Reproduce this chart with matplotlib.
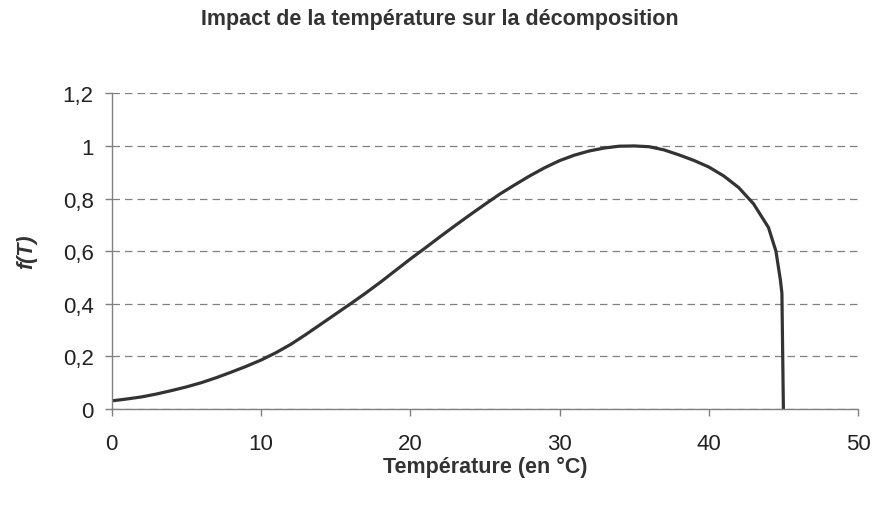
import matplotlib
matplotlib.use('Agg')
import matplotlib.pyplot as plt
from matplotlib.ticker import FuncFormatter

# f(T)
temperature = [0, 1, 2, 3, 4, 5, 6, 7, 8, 9,
               10, 11, 12, 13, 14, 15, 16, 17, 18, 19,
               20, 21, 22, 23, 24, 25, 26, 27, 28, 29,
               30, 31, 32, 33, 34, 35, 36, 37, 38, 39,
               40, 41, 42, 43, 44, 44.5, 44.8, 44.9, 45]
f_t = [0.031, 0.038, 0.046, 0.057, 0.070, 0.084, 0.100, 0.119, 0.140, 0.162,
       0.186, 0.214, 0.246, 0.283, 0.322, 0.361, 0.400, 0.440, 0.482, 0.526,
       0.570, 0.612, 0.655, 0.697, 0.738, 0.778, 0.817, 0.852, 0.886, 0.917,
       0.944, 0.965, 0.981, 0.992, 0.999, 1.000, 0.997, 0.985, 0.966, 0.945,
       0.920, 0.886, 0.842, 0.780, 0.690, 0.600, 0.490, 0.440, 0.0]

x_ticks = [0, 10, 20, 30, 40, 50]
y_ticks = [0, 0.2, 0.4, 0.6, 0.8, 1.0, 1.2]

plt.rcParams['font.family'] = ['Liberation Sans', 'DejaVu Sans']

fig = plt.figure(figsize=(8.75, 5.06), dpi=100)
ax = fig.add_axes([0.1277, 0.1897, 0.8529, 0.6239])

ax.plot(temperature, f_t, color='#333333', lw=2.3, solid_joinstyle='round')

ax.set_xlim(0, 50)
ax.set_ylim(0, 1.2)
ax.set_xticks(x_ticks)
ax.set_yticks(y_ticks)
ax.yaxis.set_major_formatter(FuncFormatter(lambda v, p: ('%g' % round(v, 1)).replace('.', ',')))

ax.grid(axis='y', color='#808080', lw=0.9, linestyle=(0, (6, 4)))
ax.set_axisbelow(True)

for s in ['top', 'right']:
    ax.spines[s].set_visible(False)
for s in ['left', 'bottom']:
    ax.spines[s].set_color('#808080')
    ax.spines[s].set_linewidth(1)

ax.tick_params(direction='out', length=5, width=1, color='#808080',
               labelsize=16, labelcolor='#222222')
ax.tick_params(axis='x', pad=12)
ax.tick_params(axis='y', pad=8)

ax.set_xlabel('Température (en °C)', fontsize=15.5, fontweight='bold',
              color='#333333', labelpad=2)
ax.set_ylabel('f(T)', fontsize=15.5, fontweight='bold', fontstyle='italic',
              color='#333333', labelpad=18)

fig.text(0.503, 0.9615, 'Impact de la température sur la décomposition',
         ha='center', va='center', fontsize=15.5, fontweight='bold', color='#333333')

fig.savefig('out.png', dpi=100)
